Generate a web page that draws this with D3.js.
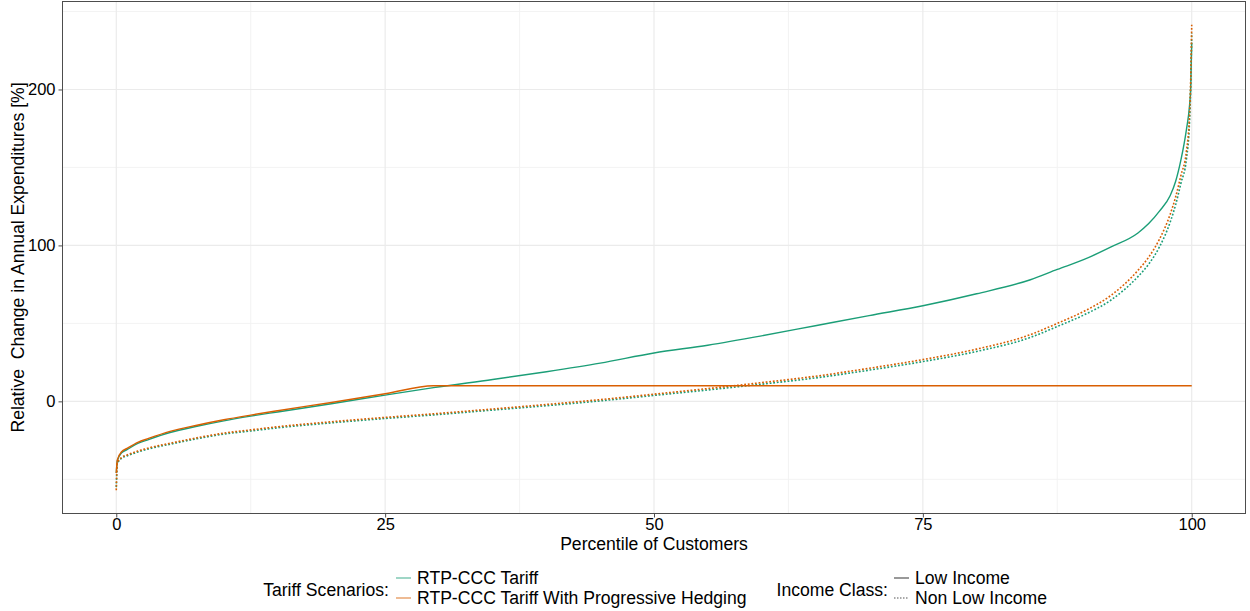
<!DOCTYPE html>
<html>
<head>
<meta charset="utf-8">
<script src="https://cdn.jsdelivr.net/npm/d3@7"></script>
<style>
  html, body { margin: 0; padding: 0; background: #fff; }
  svg { display: block; font-family: "Liberation Sans", Arial, sans-serif; }
</style>
</head>
<body>
<svg id="chart" width="1250" height="611"></svg>
<script>
// Percentile of customers at which each curve is sampled
const percentiles = [0, 0.1, 0.5, 1, 2, 3, 5, 7.5, 10, 12.5, 15, 20, 25, 29.5, 35, 40, 45, 50,
  55, 60, 65, 70, 75, 80, 85, 87.5, 90, 92.5, 95, 96, 97, 98, 98.5, 99, 99.5, 99.8, 99.9, 100];

// Relative change in annual expenditures [%]
const rtpLowIncome = [-46, -38, -33, -31, -27, -24.5, -20, -16, -12.5, -9.5, -6.8, -1.5, 4, 8.8, 14, 19, 24.5, 31,
  36, 42, 48.5, 55, 61.3, 69, 78, 84.6, 91, 99, 108, 114, 122, 132, 141, 155, 174, 190, 200, 230];
const hedgeLowIncome = [-46, -37.5, -32.3, -30.2, -26.3, -23.8, -19.3, -15.3, -11.8, -8.8, -6, -0.7, 4.9, 10, 10, 10, 10, 10,
  10, 10, 10, 10, 10, 10, 10, 10, 10, 10, 10, 10, 10, 10, 10, 10, 10, 10, 10, 10];
const rtpNonLowIncome = [-55, -40, -36.5, -35, -32.5, -30.5, -27.5, -24, -21, -19, -17, -13.8, -11, -8.7, -5.6, -2.8, 0.3, 3.8,
  7.3, 11, 15, 20, 25.5, 32, 41, 48, 55.5, 65, 80, 88, 99, 115, 126, 140, 155, 180, 200, 236];
const hedgeNonLowIncome = [-57, -39.5, -36, -34.4, -31.9, -29.9, -26.9, -23.4, -20.4, -18.3, -16.3, -13.1, -10.3, -8, -4.9, -2, 1.1, 4.6,
  8.2, 12, 16.1, 21.2, 26.8, 33.5, 42.8, 50, 57.8, 68, 84, 92.5, 104, 120, 131, 145, 160, 185, 205, 241.5];

const scenarioNames = ["RTP-CCC Tariff", "RTP-CCC Tariff With Progressive Hedging"];
const incomeNames = ["Low Income", "Non Low Income"];
const xTicks = [0, 25, 50, 75, 100];
const yTicks = [0, 100, 200];

const scenarioColors = ["#1B9E77", "#D95F02"];

const svg = d3.select("#chart");
const panel = { left: 62.5, right: 1245.5, top: 1.5, bottom: 513.5 };

// ggplot-style 5% expansion around the data range
const allY = [].concat(rtpLowIncome, hedgeLowIncome, rtpNonLowIncome, hedgeNonLowIncome);
const yMin = d3.min(allY), yMax = d3.max(allY);
const yPad = (yMax - yMin) * 0.05;
const x = d3.scaleLinear().domain([-5, 105]).range([panel.left, panel.right]);
const y = d3.scaleLinear().domain([yMin - yPad, yMax + yPad]).range([panel.bottom, panel.top]);

const g = svg.append("g");

// minor grid
const xMinor = [12.5, 37.5, 62.5, 87.5];
const yMinor = [-50, 50, 150, 250];
g.selectAll(".xminor").data(xMinor).join("line")
  .attr("x1", d => x(d)).attr("x2", d => x(d))
  .attr("y1", panel.top).attr("y2", panel.bottom)
  .attr("stroke", "#f2f2f2").attr("stroke-width", 0.9);
g.selectAll(".yminor").data(yMinor).join("line")
  .attr("x1", panel.left).attr("x2", panel.right)
  .attr("y1", d => y(d)).attr("y2", d => y(d))
  .attr("stroke", "#f2f2f2").attr("stroke-width", 0.9);
// major grid
g.selectAll(".xmajor").data(xTicks).join("line")
  .attr("x1", d => x(d)).attr("x2", d => x(d))
  .attr("y1", panel.top).attr("y2", panel.bottom)
  .attr("stroke", "#ebebeb").attr("stroke-width", 1.2);
g.selectAll(".ymajor").data(yTicks).join("line")
  .attr("x1", panel.left).attr("x2", panel.right)
  .attr("y1", d => y(d)).attr("y2", d => y(d))
  .attr("stroke", "#ebebeb").attr("stroke-width", 1.2);

// curves
const series = [
  { values: rtpLowIncome, scenario: 0, income: 0 },
  { values: rtpNonLowIncome, scenario: 0, income: 1 },
  { values: hedgeLowIncome, scenario: 1, income: 0 },
  { values: hedgeNonLowIncome, scenario: 1, income: 1 }
];
const line = d3.line()
  .x(d => x(d[0]))
  .y(d => y(d[1]))
  .curve(d3.curveMonotoneX);

g.selectAll(".curve").data(series).join("path")
  .attr("fill", "none")
  .attr("stroke", d => scenarioColors[d.scenario])
  .attr("stroke-width", d => d.income === 1 ? 1.6 : 1.4)
  .attr("stroke-dasharray", d => d.income === 1 ? "1.8,1.8" : null)
  .attr("d", d => line(percentiles.map((p, i) => [p, d.values[i]])));

// panel border
svg.append("rect")
  .attr("x", panel.left).attr("y", panel.top)
  .attr("width", panel.right - panel.left).attr("height", panel.bottom - panel.top)
  .attr("fill", "none").attr("stroke", "#4d4d4d").attr("stroke-width", 1);

// axes
const xAxis = svg.append("g")
  .attr("transform", `translate(0,${panel.bottom})`)
  .call(d3.axisBottom(x).tickValues(xTicks).tickSize(4).tickPadding(1));
const yAxis = svg.append("g")
  .attr("transform", `translate(${panel.left},0)`)
  .call(d3.axisLeft(y).tickValues(yTicks).tickSize(4).tickPadding(3));
[xAxis, yAxis].forEach(a => {
  a.select(".domain").remove();
  a.selectAll(".tick line").attr("stroke", "#4d4d4d");
  a.selectAll(".tick text").attr("fill", "#000")
    .style("font-family", "'Liberation Sans', Arial, sans-serif")
    .style("font-size", "16.5px");
});

// axis titles
svg.append("text")
  .attr("x", (panel.left + panel.right) / 2).attr("y", 550)
  .attr("text-anchor", "middle")
  .style("font-size", "17.6px")
  .text("Percentile of Customers");
svg.append("text")
  .attr("transform", `translate(24,${(panel.top + panel.bottom) / 2}) rotate(-90)`)
  .attr("text-anchor", "middle")
  .style("font-size", "17.6px")
  .style("white-space", "pre")
  .text("Relative  Change in Annual Expenditures [%]");

// legends
const legend = svg.append("g");
legend.append("text")
  .attr("x", 389).attr("y", 596).attr("text-anchor", "end")
  .style("font-size", "17.6px")
  .text("Tariff Scenarios:");
scenarioNames.forEach((name, i) => {
  const yy = 578 + i * 20;
  legend.append("line")
    .attr("x1", 396).attr("x2", 411).attr("y1", yy).attr("y2", yy)
    .attr("stroke", scenarioColors[i]).attr("stroke-width", 1.2).attr("opacity", 0.7);
  legend.append("text")
    .attr("x", 417).attr("y", yy + 6)
    .style("font-size", "17.6px")
    .text(name);
});
legend.append("text")
  .attr("x", 888).attr("y", 596).attr("text-anchor", "end")
  .style("font-size", "17.6px")
  .text("Income Class:");
incomeNames.forEach((name, i) => {
  const yy = 578 + i * 20;
  legend.append("line")
    .attr("x1", 894).attr("x2", 909).attr("y1", yy).attr("y2", yy)
    .attr("stroke", "#555").attr("stroke-width", 1.2)
    .attr("stroke-dasharray", i === 1 ? "1.5,1.5" : null);
  legend.append("text")
    .attr("x", 915).attr("y", yy + 6)
    .style("font-size", "17.6px")
    .text(name);
});
</script>
</body>
</html>
